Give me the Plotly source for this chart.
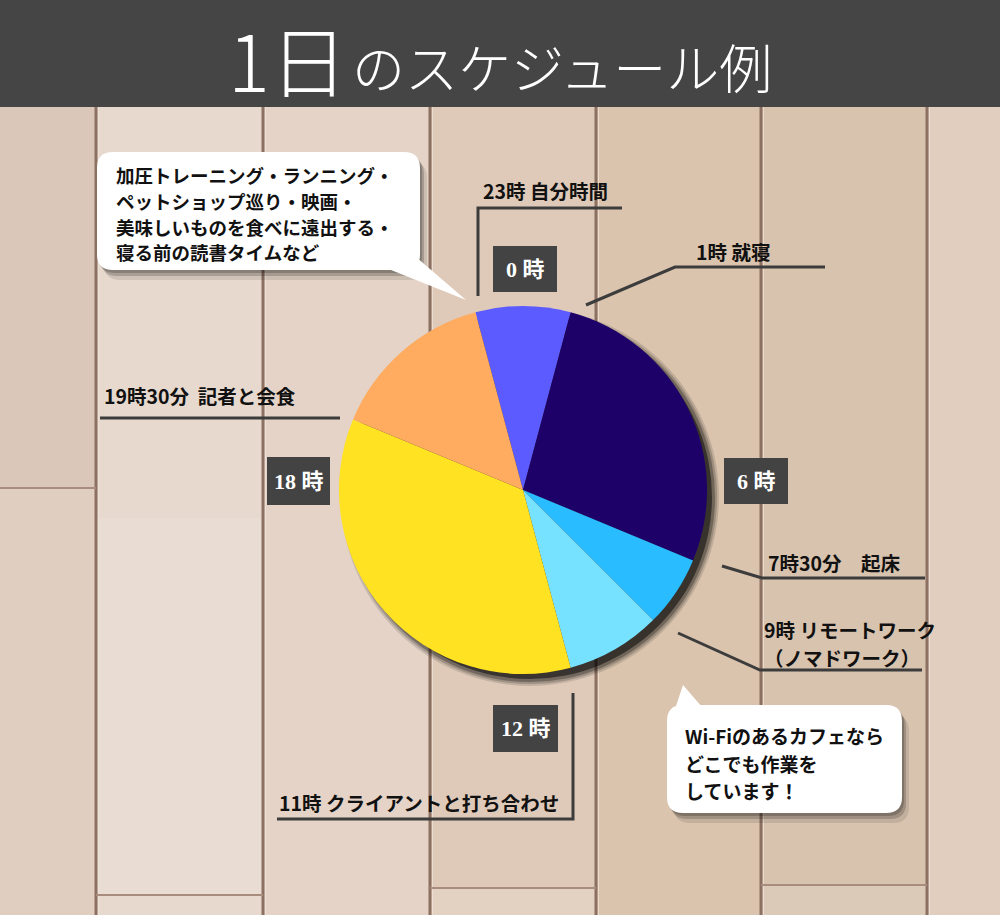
import plotly.graph_objects as go

# ---------------- data ----------------
slice_labels = ["23時 自分時間", "1時 就寝", "7時30分 起床", "9時 リモートワーク",
                "11時 クライアントと打ち合わせ", "19時30分 記者と会食"]
slice_hours = [2, 6.5, 1.5, 2, 8.5, 3.5]
slice_colors = ["#5b5bff", "#1e0069", "#29bcff", "#76e2ff", "#ffe222", "#ffab60"]

hour_marks = ["0 時", "6 時", "12 時", "18 時"]
title_big = "1日"
title_small = "のスケジュール例"
note_top = ["加圧トレーニング・ランニング・", "ペットショップ巡り・映画・",
            "美味しいものを食べに遠出する・", "寝る前の読書タイムなど"]
note_bottom = ["Wi-Fiのあるカフェなら", "どこでも作業を", "しています！"]
callouts = ["23時 自分時間", "1時 就寝", "19時30分\u00a0\u00a0記者と会食",
            "7時30分\u3000起床", "9時 リモートワーク", "（ノマドワーク）",
            "11時 クライアントと打ち合わせ"]

# ---------------- helpers (pixel -> paper) ----------------
W, H = 1000, 915
def X(x): return x / W
def Y(y): return 1 - y / H
def poly(pts, close=False):
    s = "M " + " L ".join(f"{X(a):.5f},{Y(b):.5f}" for a, b in pts)
    return s + (" Z" if close else "")
def rrect(x0, y0, x1, y1, r):
    p = lambda a, b: f"{X(a):.5f},{Y(b):.5f}"
    return (f"M {p(x0+r,y0)} L {p(x1-r,y0)} Q {p(x1,y0)} {p(x1,y0+r)} "
            f"L {p(x1,y1-r)} Q {p(x1,y1)} {p(x1-r,y1)} L {p(x0+r,y1)} "
            f"Q {p(x0,y1)} {p(x0,y1-r)} L {p(x0,y0+r)} Q {p(x0,y0)} {p(x0+r,y0)} Z")

shapes = []
def rect(x0, y0, x1, y1, color, layer="below", opacity=1):
    shapes.append(dict(type="rect", xref="paper", yref="paper", x0=X(x0), x1=X(x1),
                       y0=Y(y1), y1=Y(y0), fillcolor=color, line=dict(width=0),
                       layer=layer, opacity=opacity))
def line(pts, color="#3c3c3c", width=3, layer="below", opacity=1):
    shapes.append(dict(type="path", xref="paper", yref="paper", path=poly(pts),
                       line=dict(color=color, width=width), layer=layer, opacity=opacity))

# ---------------- wood background ----------------
plank_x = [0, 96, 263, 430, 596, 761, 927, 1000]
plank_col = ["#dac7b9", "#e7d9ce", "#e4d3c6", "#dfcab9", "#dac4ae", "#d8c3af", "#e1cebf"]
for i in range(len(plank_col)):
    rect(plank_x[i], 0, plank_x[i+1], H, plank_col[i])
# some plank segments with slightly different tone
rect(0, 488, 96, H, "#e0cec1")
rect(96, 518, 263, 895, "#e9ddd3")
rect(430, 888, 596, H, "#e3d1c2")
rect(761, 885, 927, H, "#dccab9")
for xx in plank_x[1:-1]:
    line([(xx, 0), (xx, H)], color="#8c7062", width=3)
    line([(xx + 2.5, 0), (xx + 2.5, H)], color="#f2e6dc", width=1, opacity=0.7)
for (xa, xb, yy) in [(0, 96, 488), (96, 263, 895), (430, 596, 888), (761, 927, 885)]:
    line([(xa, yy), (xb, yy)], color="#a88d7e", width=2)

# header
rect(0, 0, W, 107, "#454545")

# ---------------- pie shadow ----------------
cx, cy, R = 523, 490, 184
for dr, op in [(5, 0.12), (3, 0.18), (1, 0.28), (-2, 0.5)]:
    shapes.append(dict(type="circle", xref="paper", yref="paper",
                       x0=X(cx + 7 - R - dr), x1=X(cx + 7 + R + dr),
                       y0=Y(cy + 7 + R + dr), y1=Y(cy + 7 - R - dr),
                       fillcolor="black", line=dict(width=0), layer="below", opacity=op))

# ---------------- speech bubbles ----------------
def bubble(x0, y0, x1, y1, tail):
    for (dx, dy, op) in [(7, 10, 0.10), (4, 6, 0.18), (2, 3, 0.2)]:
        shapes.append(dict(type="path", xref="paper", yref="paper",
                           path=rrect(x0 + dx, y0 + dy, x1 + dx, y1 + dy, 16),
                           fillcolor="black", line=dict(width=0), layer="below", opacity=op))
    shapes.append(dict(type="path", xref="paper", yref="paper", path=rrect(x0, y0, x1, y1, 16),
                       fillcolor="white", line=dict(width=0), layer="below"))
    shapes.append(dict(type="path", xref="paper", yref="paper", path=poly(tail, close=True),
                       fillcolor="white", line=dict(width=0), layer="below"))

bubble(97, 152, 420, 270, [(386, 268), (416, 257), (466, 300)])
bubble(667, 705, 902, 813, [(674, 712), (702, 707), (683, 685)])

# ---------------- hour boxes ----------------
hour_boxes = [(493, 246, 557, 292), (724, 458, 788, 504), (493, 705, 558, 752), (267, 457, 330, 505)]
for b in hour_boxes:
    rect(*b, "#434343")

# ---------------- leader lines ----------------
line([(622, 208), (478, 208), (478, 296)])
line([(825, 267), (675, 267), (586, 305)])
line([(100, 418), (340, 418)])
line([(925, 578), (762, 578), (722, 566)])
line([(922, 670), (760, 670), (678, 633)])
line([(277, 819), (573, 819), (573, 693)])

# ---------------- annotations ----------------
ann = []
JP = "Noto Sans CJK JP"
def text(x, y, s, size=20, color="#111111", weight="bold", family=JP, xanchor="left"):
    ann.append(dict(x=X(x), y=Y(y), xref="paper", yref="paper", text=s, showarrow=False,
                    xanchor=xanchor, yanchor="middle",
                    font=dict(family=family, size=size, color=color, weight=weight)))

text(226, 58, title_big, size=78, color="white", weight=300)
text(350, 66, title_small, size=53, color="white", weight=300)

for s, yy in zip(note_top, [175, 201, 227, 252]):
    text(114, yy, s, size=18.5)
for s, yy in zip(note_bottom, [735, 763, 790]):
    text(683, yy, s, size=19)

callout_pos = [(481, 190), (694, 251), (102, 396), (766, 562), (762, 629), (762, 657), (277, 802)]
for s, (xx, yy) in zip(callouts, callout_pos):
    text(xx, yy, s, size=19.5)

for s, b in zip(hour_marks, hour_boxes):
    text((b[0] + b[2]) / 2, (b[1] + b[3]) / 2, s, size=22, color="white", weight="bold",
         family="Liberation Serif, Noto Sans CJK JP", xanchor="center")

# ---------------- figure ----------------
fig = go.Figure(go.Pie(
    labels=slice_labels, values=slice_hours, sort=False, direction="clockwise",
    rotation=-15, marker=dict(colors=slice_colors, line=dict(width=0)),
    textinfo="none", hoverinfo="label+value", showlegend=False,
    domain=dict(x=[X(cx - R), X(cx + R)], y=[Y(cy + R), Y(cy - R)]),
))
fig.update_layout(width=W, height=H, margin=dict(l=0, r=0, t=0, b=0),
                  paper_bgcolor="#dcc8b8", plot_bgcolor="rgba(0,0,0,0)",
                  shapes=shapes, annotations=ann, showlegend=False)
fig.write_html("out.html", config={"displayModeBar": False},
               post_script="document.body.style.margin='0';")
